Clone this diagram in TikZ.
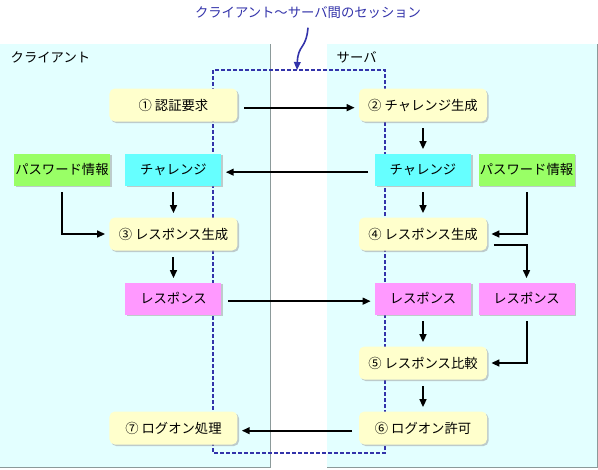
\documentclass[tikz,border=0pt]{standalone}
\usepackage{fontspec}
\setmainfont{Noto Sans CJK JP}
\usetikzlibrary{positioning,arrows.meta,shadows}
\definecolor{PanelCyan}{HTML}{E3FFFF}
\definecolor{StepYellow}{HTML}{FFFFCC}
\definecolor{ChalCyan}{HTML}{66FFFF}
\definecolor{PassGreen}{HTML}{99FF66}
\definecolor{RespPink}{HTML}{FF99FF}
\definecolor{SessBlue}{HTML}{3333AA}
\definecolor{EdgeGray}{HTML}{8C9A9A}
\tikzset{
  boxshadow/.style={drop shadow={shadow xshift=1.2pt,shadow yshift=-1.2pt,fill=black!40,opacity=.5}},
  stepbox/.style={rounded corners=4pt,fill=StepYellow,minimum width=96pt,minimum height=24.75pt,inner sep=0pt,boxshadow},
  databox/.style={minimum width=72pt,minimum height=24pt,inner sep=0pt,boxshadow},
  chalbox/.style={databox,fill=ChalCyan},
  passbox/.style={databox,fill=PassGreen},
  respbox/.style={databox,fill=RespPink},
  flow/.style={-{Triangle[length=6pt,width=5pt]},line width=1.5pt,shorten <=5pt,shorten >=3pt},
}
\begin{document}
\begin{tikzpicture}[x=0.75pt,y=-0.75pt,node distance=23.6pt,font=\fontsize{10pt}{12pt}\selectfont]
  \useasboundingbox (0,0) rectangle (598,469);
  % client / server areas
  \fill[PanelCyan] (0,44) rectangle (270,467);
  \draw[EdgeGray] (270,44) -- (270,467) -- (0,467);
  \fill[PanelCyan] (327,44) rectangle (597,467);
  \draw[EdgeGray] (597,44) -- (597,467) -- (327,467);
  \node[anchor=west] (clientlbl) at (6,57) {クライアント};
  \node[anchor=west] (serverlbl) at (332,57) {サーバ};
  % session
  \draw[SessBlue,line width=1.2pt,dash pattern=on 3pt off 1.5pt] (213,70) rectangle (385,453);
  \node[text=SessBlue] (sesslbl) at (308,13) {クライアント～サーバ間のセッション};
  \coordinate (sesstop) at (297,70);
  \draw[SessBlue,line width=1.2pt,-{Triangle[length=6pt,width=5pt]}] ([yshift=-3pt]sesslbl.south) .. controls (306,50) and (298,44) .. (sesstop);

  % server side
  \node[stepbox] (s2) at (423,105) {② チャレンジ生成};
  \node[chalbox,below=of s2] (chR) {チャレンジ};
  \node[passbox,right=5.25pt of chR] (pwR) {パスワード情報};
  \node[stepbox,below=of chR] (s4) {④ レスポンス生成};
  \node[respbox,below=of s4] (rR) {レスポンス};
  \node[respbox,right=5.25pt of rR] (rR2) {レスポンス};
  \node[stepbox,below=of rR] (s5) {⑤ レスポンス比較};
  \node[stepbox,below=of s5] (s6) {⑥ ログオン許可};

  % client side
  \node[stepbox,left=90.75pt of s2] (c1) {① 認証要求};
  \node[chalbox,below=of c1] (chL) {チャレンジ};
  \node[passbox,left=11.25pt of chL] (pwL) {パスワード情報};
  \node[stepbox,below=of chL] (s3) {③ レスポンス生成};
  \node[respbox,below=of s3] (rL) {レスポンス};
  \node[stepbox,left=90.75pt of s6] (s7) {⑦ ログオン処理};

  \draw[flow] ([yshift=-2pt]c1.east) -- ([yshift=-2pt]s2.west);
  \draw[flow] (s2) -- (chR);
  \draw[flow] ([yshift=-2pt]chR.west) -- ([yshift=-2pt]chL.east);
  \draw[flow] (chL) -- (s3);
  \draw[flow] (pwL.south) |- (s3.west);
  \draw[flow] (s3) -- (rL);
  \draw[flow] ([yshift=-2pt]rL.east) -- ([yshift=-2pt]rR.west);
  \draw[flow] (chR) -- (s4);
  \draw[flow] (pwR.south) |- (s4.east);
  \draw[flow] ([yshift=-8pt]s4.east) -| (rR2.north);
  \draw[flow] (rR) -- (s5);
  \draw[flow] (rR2.south) |- (s5.east);
  \draw[flow] (s5) -- (s6);
  \draw[flow] ([yshift=-2pt]s6.west) -- ([yshift=-2pt]s7.east);
\end{tikzpicture}
\end{document}
